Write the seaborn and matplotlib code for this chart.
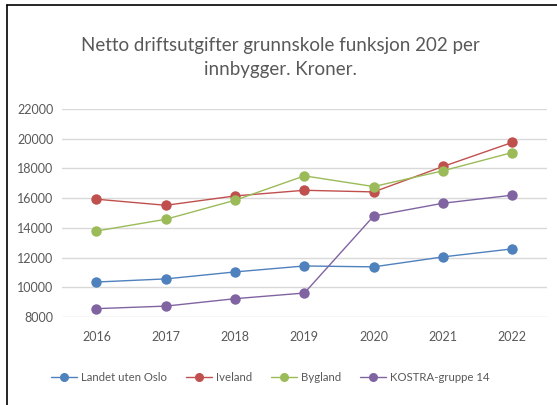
import matplotlib
matplotlib.use("Agg")
import matplotlib.pyplot as plt
import seaborn as sns
import pandas as pd
from matplotlib.lines import Line2D

# Data
years = [2016, 2017, 2018, 2019, 2020, 2021, 2022]
landet_uten_oslo = [10360, 10570, 11040, 11440, 11380, 12050, 12590]
iveland = [15930, 15520, 16150, 16530, 16420, 18130, 19750]
bygland = [13790, 14580, 15860, 17500, 16780, 17840, 19070]
kostra_14 = [8570, 8740, 9240, 9620, 14800, 15660, 16200]

series_names = ["Landet uten Oslo", "Iveland", "Bygland", "KOSTRA-gruppe 14"]
series_values = [landet_uten_oslo, iveland, bygland, kostra_14]
colors = ["#4F81BD", "#C0504D", "#9BBB59", "#8064A2"]

rows = []
for name, vals in zip(series_names, series_values):
    for y, v in zip(years, vals):
        rows.append({"År": y, "Kroner": v, "Serie": name})
df = pd.DataFrame(rows)

sns.set_style("white")
plt.rcParams["font.family"] = ["Lato", "DejaVu Sans"]

fig = plt.figure(figsize=(5.57, 4.05), dpi=100)
ax = fig.add_axes([0.111, 0.217, 0.871, 0.514])

sns.lineplot(data=df, x="År", y="Kroner", hue="Serie", hue_order=series_names,
             palette=colors, marker="o", markersize=7.5, markeredgewidth=0,
             linewidth=1.0, ax=ax, legend=False)

ax.set_xlim(2015.5, 2022.5)
ax.set_ylim(8000, 22000)
ax.set_yticks(range(8000, 22001, 2000))
ax.set_xticks(years)
ax.set_xticklabels([str(y) for y in years])
ax.grid(axis="y", color="#d9d9d9", linewidth=1)
ax.grid(axis="x", visible=False)
for s in ax.spines.values():
    s.set_visible(False)
ax.tick_params(axis="both", length=0, labelsize=9, labelcolor="#595959", pad=6)
ax.tick_params(axis="x", pad=10)
ax.set_xlabel("")
ax.set_ylabel("")

fig.text(0.503, 0.857, "Netto driftsutgifter grunnskole funksjon 202 per\ninnbygger. Kroner.",
         ha="center", va="center", fontsize=13.5, color="#595959", linespacing=1.5)

handles = [Line2D([0], [0], color=c, marker="o", markersize=6.5, markeredgewidth=0,
                  linewidth=1.0) for c in colors]
fig.legend(handles, series_names, loc="center", bbox_to_anchor=(0.485, 0.069), ncol=4,
           frameon=False, fontsize=8.2, labelcolor="#595959", handlelength=2.3,
           columnspacing=1.7, handletextpad=0.3)

# border of the chart area
fig.add_artist(Line2D([0.0126, 0.0126], [0, 0.988], transform=fig.transFigure,
                      color="black", linewidth=1.2))
fig.add_artist(Line2D([0.0126, 1], [0.988, 0.988], transform=fig.transFigure,
                      color="black", linewidth=1.2))

fig.savefig("out.png", dpi=100)
